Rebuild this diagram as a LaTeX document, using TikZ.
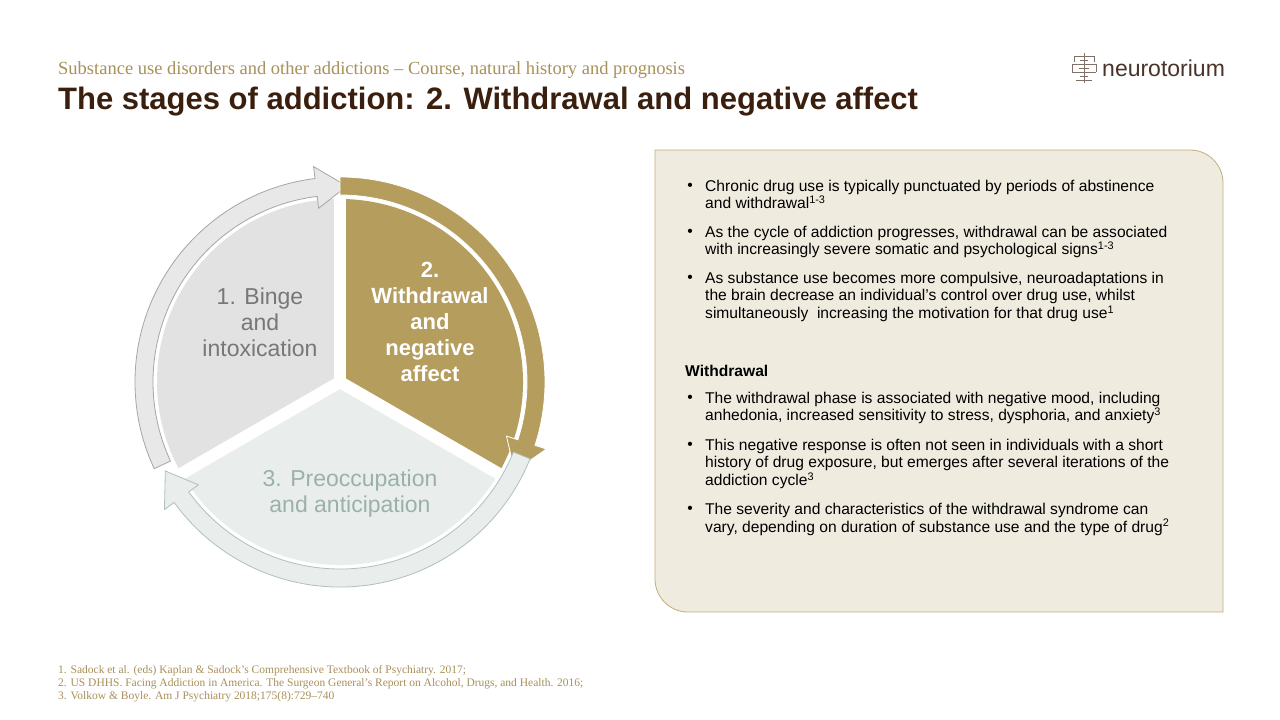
\documentclass[tikz,border=0pt]{standalone}
\usepackage{fontspec}
\setmainfont{Liberation Serif}
\setsansfont{Liberation Sans}
\usetikzlibrary{positioning}
\definecolor{gold}{HTML}{B59D5E}
\definecolor{titlebrown}{HTML}{3B1F0E}
\definecolor{subgold}{HTML}{A8915A}
\definecolor{panelfill}{HTML}{F0EBDF}
\definecolor{panelline}{HTML}{C2AE7C}
\definecolor{sectgray}{HTML}{E2E2E2}
\definecolor{sectgreen}{HTML}{E9EEEC}
\definecolor{textgreen}{HTML}{9BB1A8}
\definecolor{textgray}{HTML}{777777}
\definecolor{logobrown}{HTML}{4A3328}
% ring arrow running clockwise from #1 to tip #2
\newcommand{\cyclearrow}[4]{%
  \filldraw[#3, draw=#4, line width=0.8pt]
    (#1:205) arc[start angle=#1, end angle=#2+9, radius=205]
    -- (#2+9:217) -- (#2:196) -- (#2+9:175)
    -- (#2+9:187) arc[start angle=#2+9, end angle=#1, radius=187] -- cycle;}
\tikzset{
  sector/.style={line width=0pt},
  bul/.style={anchor=north west, inner sep=0pt, font=\sffamily\fontsize{15.6}{17.5}\selectfont, text=black},
  item/.style={bul, align=left},
  foot/.style={anchor=west, inner sep=0pt, font=\fontsize{11.5}{13}\selectfont, text=subgold},
  stage/.style={align=center, font=\sffamily\fontsize{23}{26}\selectfont}
}
\begin{document}
\begin{tikzpicture}[x=1pt,y=1pt]
	\useasboundingbox (0,0) rectangle (1280,720);
	\fill[white] (0,0) rectangle (1280,720);

	% Header
	\node[anchor=west, inner sep=0pt, text=subgold, font=\fontsize{18.5}{20}\selectfont] (sub) at (58,650) {Substance use disorders and other addictions -- Course, natural history and prognosis};
	\node[anchor=west, inner sep=0pt, text=titlebrown, font=\sffamily\bfseries\fontsize{31}{34}\selectfont] (title) at (58,618) {The stages of addiction: 2. Withdrawal and negative affect};

	% Logo
	\node[anchor=west, inner sep=0pt, text=logobrown, font=\sffamily\fontsize{23}{26}\selectfont] (logo) at (1102,652) {neurotorium};
	\begin{scope}[shift={(1084,652)}, draw=logobrown!70, line width=0.7pt]
		\draw (0,-15) -- (0,15);
		\draw (-10,12) -- (10,12) (-12,4) -- (12,4) (-12,-4) -- (12,-4) (-8,-12) -- (8,-12);
		\draw (-10,12) -- (-10,6) (10,12) -- (10,6) (-12,4) -- (-12,-4) (12,4) -- (12,-4);
		\draw (-4,8) -- (4,8) (-5,0) -- (5,0) (-4,-8) -- (4,-8);
	\end{scope}

	% Cycle
	\begin{scope}[shift={(340,338)}]
		\fill[sectgray] (0,0) -- (90:183) arc[start angle=90, end angle=210, radius=183] -- cycle;
		\fill[gold] (0,0) -- (-30:183) arc[start angle=-30, end angle=90, radius=183] -- cycle;
		\fill[sectgreen] (0,0) -- (210:183) arc[start angle=210, end angle=330, radius=183] -- cycle;
		\foreach \a in {90,210,330}
			\draw[white, line width=12pt] (0,0) -- (\a:215);
		\cyclearrow{205}{88}{fill=sectgray!80}{gray!70}
		\cyclearrow{90}{-27}{fill=gold}{white}
		\cyclearrow{-22}{-153}{fill=sectgreen}{textgreen!80}
		\coordinate (c) at (0,0);
	\end{scope}
	\node[stage, text=textgray] (binge) at (260,398) {1. Binge\\and\\intoxication};
	\node[stage, text=white, font=\sffamily\bfseries\fontsize{22}{26}\selectfont] (withdrawal) at (430,398) {2.\\Withdrawal\\and\\negative\\affect};
	\node[stage, text=textgreen] (preocc) at (350,226) {3. Preoccupation\\and anticipation};

	% Panel
	\filldraw[fill=panelfill, draw=panelline, line width=0.8pt]
		(655,570) -- (1190,570) arc[start angle=90, end angle=0, radius=33]
		-- (1223,108) -- (688,108) arc[start angle=270, end angle=180, radius=33] -- cycle;

	\node[item] (b1) at (705,540) {Chronic drug use is typically punctuated by periods of abstinence\\and withdrawal\textsuperscript{1-3}};
	\node[item] (b2) at (705,494) {As the cycle of addiction progresses, withdrawal can be associated\\with increasingly severe somatic and psychological signs\textsuperscript{1-3}};
	\node[item] (b3) at (705,448) {As substance use becomes more compulsive, neuroadaptations in\\the brain decrease an individual’s control over drug use, whilst\\simultaneously \ increasing the motivation for that drug use\textsuperscript{1}};
	\node[bul, font=\sffamily\bfseries\fontsize{15.6}{17.5}\selectfont] (head) at (685,355) {Withdrawal};
	\node[item] (b4) at (705,328) {The withdrawal phase is associated with negative mood, including\\anhedonia, increased sensitivity to stress, dysphoria, and anxiety\textsuperscript{3}};
	\node[item] (b5) at (705,281) {This negative response is often not seen in individuals with a short\\history of drug exposure, but emerges after several iterations of the\\addiction cycle\textsuperscript{3}};
	\node[item] (b6) at (705,217) {The severity and characteristics of the withdrawal syndrome can\\vary, depending on duration of substance use and the type of drug\textsuperscript{2}};
	\foreach \b in {b1,b2,b3,b4,b5,b6}
		\node[bul, anchor=north east] at ([xshift=-12pt, yshift=-3pt]\b.north west) {•};

	% Footnotes
	\node[foot] (f1) at (58,49) {1. Sadock et al. (eds) Kaplan \& Sadock’s Comprehensive Textbook of Psychiatry. 2017;};
	\node[foot, below=2pt of f1.south west, anchor=north west] (f2) {2. US DHHS. Facing Addiction in America. The Surgeon General’s Report on Alcohol, Drugs, and Health. 2016;};
	\node[foot, below=2pt of f2.south west, anchor=north west] (f3) {3. Volkow \& Boyle. Am J Psychiatry 2018;175(8):729--740};
\end{tikzpicture}
\end{document}
